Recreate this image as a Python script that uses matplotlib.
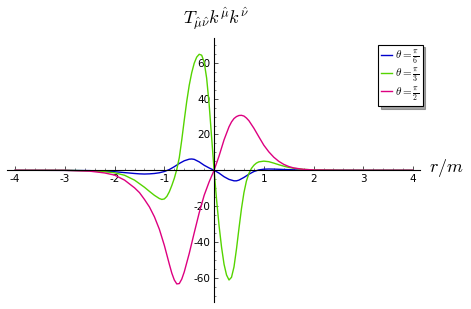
"""
Null energy contraction T_{mu nu} k^mu k^nu along r/m for three angles.
"""

import matplotlib
matplotlib.use("Agg")
import matplotlib.pyplot as plt
from matplotlib.ticker import MultipleLocator, FixedLocator

# theta = pi/6
r_blue = [-4, -3, -2.5, -2.0, -1.8, -1.6, -1.5, -1.4, -1.3, -1.2, -1.1, -1.0,
          -0.9, -0.8, -0.7, -0.6, -0.5, -0.45, -0.4, -0.3, -0.2, -0.1, 0,
          0.1, 0.2, 0.3, 0.4, 0.45, 0.5, 0.6, 0.7, 0.8, 0.9, 1.0, 1.1, 1.2,
          1.4, 1.6, 1.8, 2.0, 2.5, 3, 4]
t_blue = [0, -0.05, -0.2, -0.8, -1.3, -1.8, -2.0, -2.1, -2.0, -1.8, -1.4, -0.7,
          0.4, 2.0, 3.8, 5.3, 6.2, 6.3, 6.1, 4.7, 2.8, 1.3, 0,
          -1.6, -3.6, -5.1, -5.9, -5.9, -5.5, -4.0, -2.2, -0.7, 0.2, 0.6, 0.7, 0.65,
          0.45, 0.25, 0.12, 0.05, 0.01, 0, 0]

# theta = pi/3
r_green = [-4, -3, -2.5, -2.2, -2.0, -1.8, -1.6, -1.4, -1.3, -1.2, -1.1, -1.05,
           -1.0, -0.95, -0.9, -0.85, -0.8, -0.75, -0.7, -0.65, -0.6, -0.55, -0.5,
           -0.45, -0.4, -0.35, -0.3, -0.25, -0.2, -0.15, -0.1, -0.05, 0, 0.05,
           0.1, 0.15, 0.2, 0.25, 0.3, 0.35, 0.4, 0.45, 0.5, 0.55, 0.6, 0.65, 0.7,
           0.75, 0.8, 0.85, 0.9, 1.0, 1.1, 1.2, 1.3, 1.4, 1.5, 1.6, 1.8, 2.0,
           2.5, 3, 4]
t_green = [0, -0.02, -0.3, -0.8, -1.4, -2.8, -5.5, -9.5, -11.8, -14.0, -15.8, -16.3,
           -16.0, -14.6, -12.0, -8.5, -4.5, 0.5, 7.0, 17.0, 28.0, 38.5, 47.5,
           54.5, 59.8, 63.2, 64.8, 64.3, 60.5, 51.5, 37.0, 18.5, 0, -16.5,
           -31.0, -43.0, -52.5, -58.5, -61.3, -59.8, -54.0, -44.0, -32.5, -21.5,
           -12.5, -6.0, -1.8, 1.0, 2.8, 4.0, 4.7, 5.1, 4.8, 4.0, 3.1, 2.3, 1.6,
           1.1, 0.5, 0.2, 0.02, 0, 0]

# theta = pi/2
r_pink = [-4, -3, -2.5, -2.2, -2.0, -1.8, -1.6, -1.5, -1.4, -1.3, -1.2, -1.1,
          -1.0, -0.9, -0.85, -0.8, -0.75, -0.7, -0.65, -0.6, -0.5, -0.4, -0.3,
          -0.2, -0.1, 0, 0.1, 0.2, 0.3, 0.35, 0.4, 0.45, 0.5, 0.55, 0.6, 0.65,
          0.7, 0.8, 0.9, 1.0, 1.1, 1.2, 1.3, 1.4, 1.5, 1.6, 1.8, 2.0, 2.5, 3, 4]
t_pink = [0, -0.05, -0.5, -1.5, -2.7, -5.5, -9.8, -12.5, -16.3, -20.5, -26.0, -33.0,
          -42.0, -52.5, -57.5, -61.3, -63.5, -63.3, -60.8, -56.8, -46.5, -35.0,
          -23.8, -14.0, -6.5, 0, 8.0, 17.0, 24.3, 27.0, 28.9, 30.0, 30.6, 30.7,
          30.3, 29.2, 27.7, 23.5, 18.7, 14.0, 10.3, 7.3, 5.0, 3.3, 2.1, 1.3,
          0.5, 0.2, 0.02, 0, 0]

labels = [r"$\theta=\frac{\pi}{6}$", r"$\theta=\frac{\pi}{3}$", r"$\theta=\frac{\pi}{2}$"]
colors = ["#0000cc", "#55d400", "#dd0080"]

x_ticks = [-4, -3, -2, -1, 1, 2, 3, 4]
y_ticks = [-60, -40, -20, 20, 40, 60]

plt.rcParams["mathtext.fontset"] = "cm"

fig = plt.figure(figsize=(4.71, 3.09), dpi=100)
ax = fig.add_axes([6.7 / 471, 7 / 309, 413.3 / 471, 264 / 309])

for r, t, lab, col in zip([r_blue, r_green, r_pink], [t_blue, t_green, t_pink],
                          labels, colors):
    ax.plot(r, t, color=col, lw=1.0, label=lab)

ax.set_xlim(-4.17, 4.14)
ax.set_ylim(-73.6, 73.9)

ax.spines["left"].set_position("zero")
ax.spines["bottom"].set_position("zero")
ax.spines["right"].set_visible(False)
ax.spines["top"].set_visible(False)
for s in ("left", "bottom"):
    ax.spines[s].set_linewidth(0.8)

ax.xaxis.set_major_locator(FixedLocator(x_ticks))
ax.yaxis.set_major_locator(FixedLocator(y_ticks))
ax.xaxis.set_minor_locator(MultipleLocator(0.2))
ax.yaxis.set_minor_locator(MultipleLocator(5))
ax.set_xticklabels([str(v) for v in x_ticks])
ax.set_yticklabels([str(v) for v in y_ticks])
ax.tick_params(which="major", direction="in", length=3, width=0.6,
               labelsize=7.5, pad=3, color="#333333")
ax.tick_params(which="minor", direction="in", length=1.6, width=0.5,
               color="#555555")
ax.tick_params(axis="y", pad=2.5)

fig.text(216 / 471, 1 - 19 / 309,
         r"$T_{\hat{\mu}\hat{\nu}}k^{\hat{\mu}}k^{\hat{\nu}}$",
         ha="center", va="center", fontsize=13)
fig.text(429 / 471, 1 - 168 / 309, r"$r/m$", ha="left", va="center",
         fontsize=13)

leg = ax.legend(loc="upper right", bbox_to_anchor=(422.5 / 471, 1 - 44.7 / 309),
                bbox_transform=fig.transFigure, fontsize=8, frameon=True,
                fancybox=False, shadow=True, handlelength=1.0,
                handletextpad=0.25, labelspacing=0.05, borderpad=0.3,
                borderaxespad=0)
leg.get_frame().set_edgecolor("black")
leg.get_frame().set_linewidth(0.8)

fig.savefig("out.png", dpi=100)
